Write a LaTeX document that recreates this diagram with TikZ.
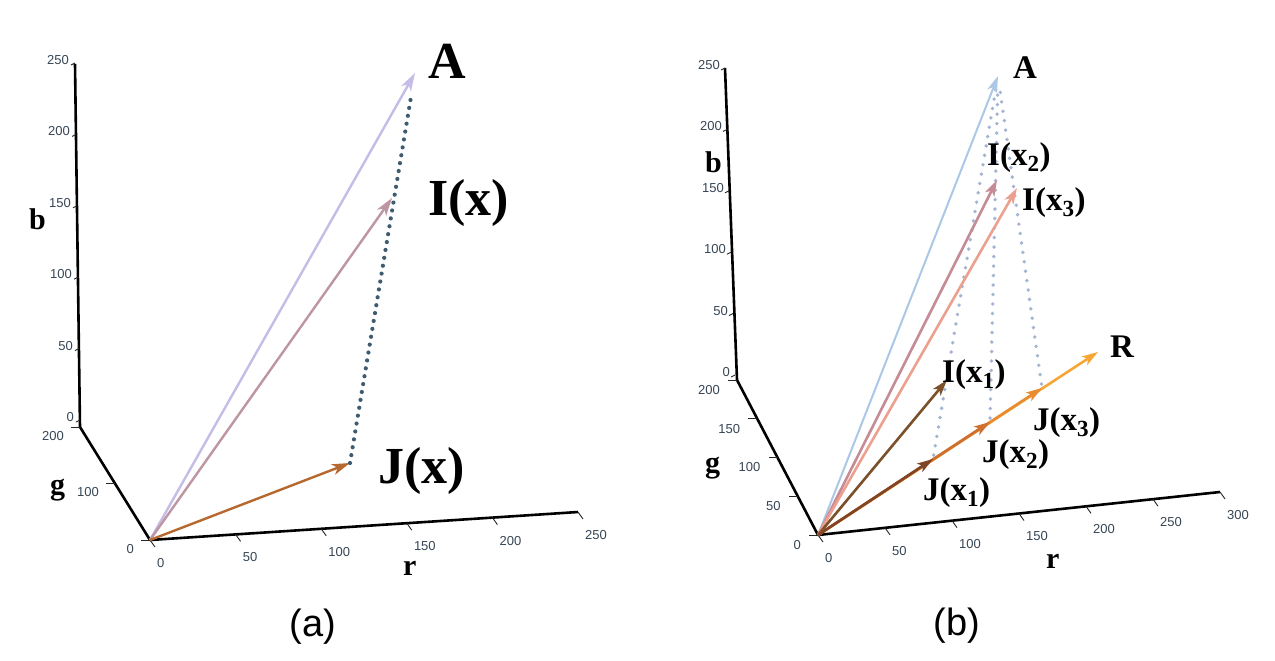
\documentclass[tikz,border=0pt]{standalone}
\usepackage{fontspec}
\setmainfont{Liberation Serif}
\setsansfont{Liberation Sans}
\usetikzlibrary{arrows.meta,calc}
\definecolor{tickgray}{RGB}{55,70,85}
\definecolor{avecL}{RGB}{198,188,232}
\definecolor{ivecL}{RGB}{190,150,162}
\definecolor{jvecL}{RGB}{182,104,46}
\definecolor{dotL}{RGB}{62,92,112}
\definecolor{avecR}{RGB}{172,200,230}
\definecolor{ivecB}{RGB}{198,140,150}
\definecolor{ivecC}{RGB}{236,160,144}
\definecolor{ivecA}{RGB}{124,80,42}
\definecolor{jvecA}{RGB}{128,68,38}
\definecolor{jvecB}{RGB}{205,112,48}
\definecolor{jvecC}{RGB}{232,140,50}
\definecolor{rvec}{RGB}{246,166,52}
\definecolor{dotR}{RGB}{164,180,210}
\begin{document}
\begin{tikzpicture}[x=1pt,y=-1pt,
  axis/.style={line width=2.6pt,black,line join=round},
  tickmark/.style={line width=0.9pt,black!85},
  ticklab/.style={font=\sffamily\fontsize{13}{13}\selectfont,text=tickgray,inner sep=0pt},
  axlab/.style={font=\bfseries\fontsize{30}{30}\selectfont,inner sep=0pt,anchor=base west},
  biglab/.style={font=\bfseries\fontsize{52}{52}\selectfont,inner sep=0pt,anchor=base west},
  lab/.style={font=\bfseries\fontsize{33}{33}\selectfont,inner sep=0pt,anchor=base west},
  caplab/.style={font=\sffamily\fontsize{38}{38}\selectfont,inner sep=0pt},
  vecL/.style={line width=2.4pt,-{Stealth[length=18pt,width=11pt,inset=5pt]}},
  vecR/.style={line width=2.6pt,-{Stealth[length=16pt,width=10pt,inset=4pt]}},
  dotline/.style={line width=4.2pt,line cap=round,dash pattern=on 0pt off 8pt},
  dotlineR/.style={line width=3.8pt,line cap=round,dash pattern=on 0pt off 9.5pt,dotR,shorten >=10pt,shorten <=4pt}
]
\useasboundingbox (0,0) rectangle (1275,661);
\fill[white] (0,0) rectangle (1275,661);

% ================= panel (a) =================
\coordinate (O1) at (150,540);
\coordinate (G1) at (80,427);
\coordinate (B1) at (75,64);
\coordinate (R1) at (578,512);
\draw[axis] (B1) -- (G1) -- (O1) -- (R1);
% b ticks
\foreach \k/\v in {0/0,1/50,2/100,3/150,4/200,5/250}{
  \coordinate (lb\k) at ({80-1.0*\k},{420-71.4*\k});
  \draw[tickmark] (lb\k) -- ++(-4,2);
  \node[ticklab,anchor=east] (lbl\k) at ($(lb\k)+(-6,-3)$) {\v};
}
% g ticks
\foreach \k/\v in {0/0,1/100,2/200}{
  \coordinate (lg\k) at ({150-35*\k},{540-56.5*\k});
  \draw[tickmark] (lg\k) -- ++(-9,0);
  \node[ticklab,anchor=east] (lgl\k) at ($(lg\k)+(-16,9)$) {\v};
}
% r ticks
\foreach \k/\v in {0/0,1/50,2/100,3/150,4/200,5/250}{
  \coordinate (lr\k) at ({150+85.6*\k},{540-5.6*\k});
  \draw[tickmark] (lr\k) -- ++(5,7);
  \node[ticklab,anchor=west] (lrl\k) at ($(lr\k)+(7,23)$) {\v};
}
\node[axlab] (lbx) at (29,229) {b};
\node[axlab] (lgx) at (50,494) {g};
\node[axlab] (lrx) at (403,575) {r};
% vectors
\coordinate (A1) at (415,73);
\coordinate (I1) at (392,198);
\coordinate (J1) at (350,463);
\draw[vecL,avecL] (O1) -- (A1);
\draw[vecL,ivecL] (O1) -- (I1);
\draw[vecL,jvecL] (O1) -- (J1);
\draw[dotline,dotL,shorten >=22pt] (J1) -- (A1);
\node[biglab] (labA1) at (428,79) {A};
\node[biglab] (labI1) at (428,215) {I(x)};
\node[biglab] (labJ1) at (378,483) {J(x)};
\node[caplab] (capa) at (313,627) {(a)};

% ================= panel (b) =================
\coordinate (O2) at (818,535);
\coordinate (G2) at (737,380);
\coordinate (B2) at (725,68);
\coordinate (R2) at (1220,492);
\draw[axis] (B2) -- (G2) -- (O2) -- (R2);
\foreach \k/\v in {0/0,1/50,2/100,3/150,4/200,5/250}{
  \coordinate (rb\k) at ({735-2*\k},{375-61.4*\k});
  \draw[tickmark] (rb\k) -- ++(-4,2);
  \node[ticklab,anchor=east] (rbl\k) at ($(rb\k)+(-5,-3)$) {\v};
}
\foreach \k/\v in {0/0,1/50,2/100,3/150,4/200}{
  \coordinate (rg\k) at ({818-20.25*\k},{535-38.75*\k});
  \draw[tickmark] (rg\k) -- ++(-9,0);
  \node[ticklab,anchor=east] (rgl\k) at ($(rg\k)+(-17,10)$) {\v};
}
\foreach \k/\v in {0/0,1/50,2/100,3/150,4/200,5/250,6/300}{
  \coordinate (rr\k) at ({818+67*\k},{535-7.17*\k});
  \draw[tickmark] (rr\k) -- ++(5,7);
  \node[ticklab,anchor=west] (rrl\k) at ($(rr\k)+(7,23)$) {\v};
}
\node[axlab] (rbx) at (705,172) {b};
\node[axlab] (rgx) at (705,472) {g};
\node[axlab] (rrx) at (1046,568) {r};
% vectors
\coordinate (A2) at (998,76);
\coordinate (Ib) at (997,180);
\coordinate (Ic) at (1017,188);
\coordinate (Ia) at (947,380);
\coordinate (Ja) at (933,459);
\coordinate (Jb) at (990,422);
\coordinate (Jc) at (1042,388);
\coordinate (Rv) at (1098,352);
\draw[dotlineR] (Ja) -- (A2);
\draw[dotlineR] (Jb) -- (A2);
\draw[dotlineR] (Jc) -- (A2);
\draw[vecR,avecR,line width=2pt] (O2) -- (A2);
\draw[vecR,ivecB] (O2) -- (Ib);
\draw[vecR,ivecC] (O2) -- (Ic);
\draw[vecR,ivecA] (O2) -- (Ia);
\draw[vecR,rvec] (O2) -- (Rv);
\draw[vecR,jvecC] (O2) -- (Jc);
\draw[vecR,jvecB] (O2) -- (Jb);
\draw[vecR,jvecA] (O2) -- (Ja);
\node[lab] (labA2) at (1013,78) {A};
\node[lab] (labIb) at (987,165) {I(x\textsubscript{2})};
\node[lab] (labIc) at (1022,210) {I(x\textsubscript{3})};
\node[lab] (labIa) at (942,382) {I(x\textsubscript{1})};
\node[lab] (labJa) at (923,500) {J(x\textsubscript{1})};
\node[lab] (labJb) at (982,462) {J(x\textsubscript{2})};
\node[lab] (labJc) at (1033,430) {J(x\textsubscript{3})};
\node[lab] (labR) at (1110,357) {R};
\node[caplab] (capb) at (957,626) {(b)};
\end{tikzpicture}
\end{document}
